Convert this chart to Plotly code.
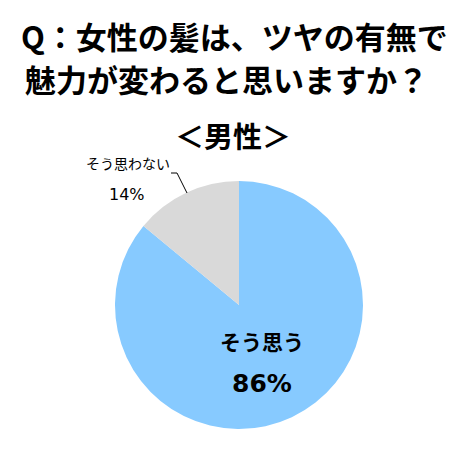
import plotly.graph_objects as go

labels = ['そう思う', 'そう思わない']
values = [86, 14]
colors = ['#87CAFF', '#D9D9D9']

W, H = 467, 458
JP = 'Noto Sans CJK JP'
NUM = 'DejaVu Sans'

fig = go.Figure(go.Pie(
    labels=labels,
    values=values,
    marker=dict(colors=colors, line=dict(width=0)),
    sort=False,
    direction='clockwise',
    rotation=0,
    textinfo='none',
    hoverinfo='label+percent',
    domain=dict(x=[115 / W, 363 / W], y=[1 - 429 / H, 1 - 181 / H]),
    showlegend=False,
))

def px(x, y):
    return x / W, 1 - y / H

annots = []
# title lines
for txt, x, y in [('Q：女性の髪は、ツヤの有無で', 234, 35), ('魅力が変わると思いますか？', 226, 78)]:
    x0, y0 = px(x, y)
    annots.append(dict(text='<b>' + txt + '</b>', x=x0, y=y0, font=dict(size=31, color='black', family=JP)))
x0, y0 = px(233, 135)
annots.append(dict(text='<b>＜男性＞</b>', x=x0, y=y0, font=dict(size=29, color='black', family=JP)))

# slice labels
x0, y0 = px(262, 341)
annots.append(dict(text='<b>' + labels[0] + '</b>', x=x0, y=y0, font=dict(size=21, color='black', family=JP)))
x0, y0 = px(262, 383)
annots.append(dict(text='<b>%d%%</b>' % values[0], x=x0, y=y0, font=dict(size=25, color='black', family=NUM)))
x0, y0 = px(128, 163)
annots.append(dict(text=labels[1], x=x0, y=y0, font=dict(size=14, color='black', family=JP)))
x0, y0 = px(127, 194)
annots.append(dict(text='%d%%' % values[1], x=x0, y=y0, font=dict(size=16, color='black', family=NUM)))

for a in annots:
    a.update(xref='paper', yref='paper', showarrow=False, xanchor='center', yanchor='middle')

# leader line
pts = [(171, 173), (177, 173), (187, 193)]
shapes = []
for (xa, ya), (xb, yb) in zip(pts[:-1], pts[1:]):
    ax, ay = px(xa, ya)
    bx, by = px(xb, yb)
    shapes.append(dict(type='line', xref='paper', yref='paper', x0=ax, y0=ay, x1=bx, y1=by,
                       line=dict(color='black', width=1)))

fig.update_layout(
    width=W, height=H,
    margin=dict(l=0, r=0, t=0, b=0),
    paper_bgcolor='white',
    plot_bgcolor='white',
    annotations=annots,
    shapes=shapes,
)

fig.write_html('out.html', config={'displayModeBar': False},
               post_script="document.body.style.margin='0';")
